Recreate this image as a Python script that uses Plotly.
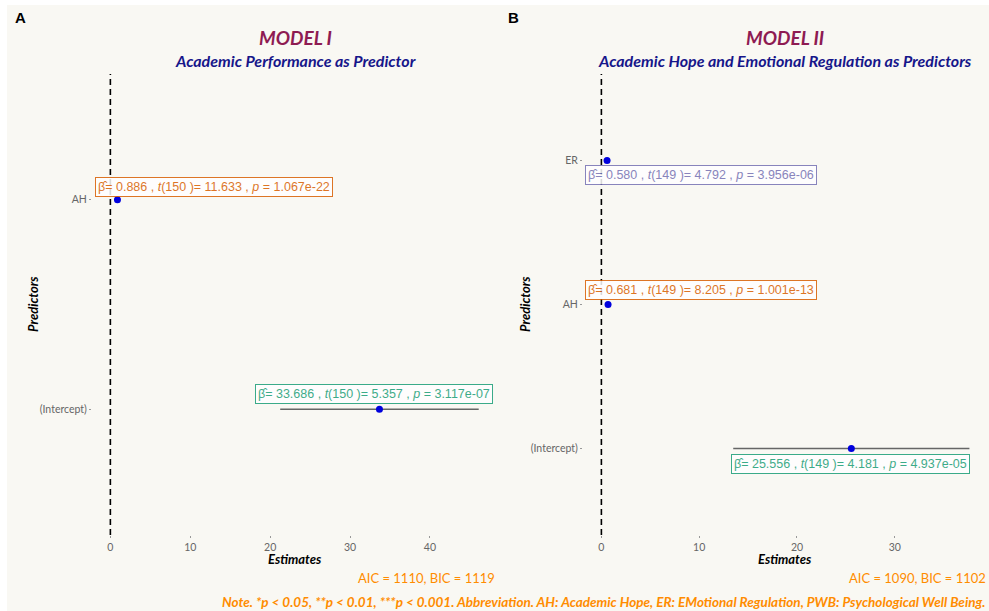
import plotly.graph_objects as go

W, H = 989, 611

# ---------------- data ----------------
termsA = ["AH", "(Intercept)"]
estA = [0.886, 33.686]
loA = [0.735, 21.26]
hiA = [1.037, 46.11]
labelsA = [
    "β̂= 0.886 , <i>t</i>(150 )= 11.633 , <i>p</i> = 1.067e-22",
    "β̂= 33.686 , <i>t</i>(150 )= 5.357 , <i>p</i> = 3.117e-07",
]
labelxA = [13.0, 33.0]

termsB = ["ER", "AH", "(Intercept)"]
estB = [0.580, 0.681, 25.556]
loB = [0.341, 0.517, 13.48]
hiB = [0.819, 0.845, 37.63]
labelsB = [
    "β̂= 0.580 , <i>t</i>(149 )= 4.792 , <i>p</i> = 3.956e-06",
    "β̂= 0.681 , <i>t</i>(149 )= 8.205 , <i>p</i> = 1.001e-13",
    "β̂= 25.556 , <i>t</i>(149 )= 4.181 , <i>p</i> = 4.937e-05",
]
labelxB = [10.2, 10.2, 25.5]

term_colors = {"AH": "#D95F02", "ER": "#7570B3", "(Intercept)": "#1B9E77"}
xticksA = [0, 10, 20, 30, 40]
xticksB = [0, 10, 20, 30]

# ---------------- layout helpers ----------------
def px_x(p):
    return p / W

def px_y(p):
    return 1 - p / H

BG = "#f9f8f3"
SCRIPT = "Lato"

fig = go.Figure()

# error bars + points
for terms, est, lo, hi, ax in [(termsA, estA, loA, hiA, ""), (termsB, estB, loB, hiB, "2")]:
    fig.add_trace(go.Scatter(
        x=est, y=terms, mode="markers",
        xaxis="x" + ax, yaxis="y" + ax,
        marker=dict(color="#0000dd", size=7),
        error_x=dict(type="data", symmetric=False,
                     array=[h - e for h, e in zip(hi, est)],
                     arrayminus=[e - l for e, l in zip(est, lo)],
                     color="#666666", thickness=1.6, width=0),
        showlegend=False, hoverinfo="skip",
    ))

axis_common = dict(showgrid=False, zeroline=False, showline=False,
                   ticks="outside", ticklen=2, tickcolor="#999999",
                   tickfont=dict(family=SCRIPT, size=10.5, color="#666666"))

fig.update_layout(
    width=W, height=H,
    margin=dict(l=0, r=0, t=0, b=0),
    paper_bgcolor="white", plot_bgcolor=BG,
    xaxis=dict(domain=[px_x(92), px_x(497)], range=[-2.3, 48.4],
               tickvals=xticksA, anchor="y", **axis_common),
    yaxis=dict(domain=[px_y(535), px_y(74)], type="category",
               categoryarray=termsA[::-1], range=[-0.6, 1.6],
               anchor="x", **axis_common),
    xaxis2=dict(domain=[px_x(583), px_x(988)], range=[-1.88, 39.53],
                tickvals=xticksB, anchor="y2", **axis_common),
    yaxis2=dict(domain=[px_y(535), px_y(74)], type="category",
                categoryarray=termsB[::-1], range=[-0.6, 2.6],
                anchor="x2", **axis_common),
)

shapes = [
    dict(type="rect", xref="paper", yref="paper", x0=px_x(7), x1=1.0,
         y0=0, y1=px_y(5), fillcolor=BG, line=dict(width=0), layer="below"),
    dict(type="line", xref="x", yref="y domain", x0=0, x1=0, y0=0, y1=1,
         line=dict(color="black", width=1.6, dash="6px,4px")),
    dict(type="line", xref="x2", yref="y2 domain", x0=0, x1=0, y0=0, y1=1,
         line=dict(color="black", width=1.6, dash="6px,4px")),
]
fig.update_layout(shapes=shapes)

ann = []
# coefficient labels
shiftsA = [13, 15]
for t, txt_, lx, sh in zip(termsA, labelsA, labelxA, shiftsA):
    c = term_colors[t]
    ann.append(dict(x=lx, y=t, xref="x", yref="y", text=txt_, showarrow=False,
                    yshift=sh, font=dict(family="Liberation Sans", size=12.5, color=c),
                    bgcolor="white", bordercolor=c, borderwidth=1, borderpad=2, opacity=0.85))
shiftsB = [-15, 15, -15]
for t, txt_, lx, sh in zip(termsB, labelsB, labelxB, shiftsB):
    c = term_colors[t]
    ann.append(dict(x=lx, y=t, xref="x2", yref="y2", text=txt_, showarrow=False,
                    yshift=sh, font=dict(family="Liberation Sans", size=12.5, color=c),
                    bgcolor="white", bordercolor=c, borderwidth=1, borderpad=2, opacity=0.85))

def txt(x, y, s, size, color, xanchor="center", family=SCRIPT, weight="bold",
        style="italic", angle=0):
    ann.append(dict(x=px_x(x), y=px_y(y), xref="paper", yref="paper", text=s,
                    showarrow=False, xanchor=xanchor, yanchor="middle", textangle=angle,
                    font=dict(family=family, size=size, color=color, weight=weight, style=style)))

# panel tags
txt(20, 18, "A", 15, "black", family="Liberation Sans", style="normal")
txt(513, 18, "B", 15, "black", family="Liberation Sans", style="normal")
# titles
txt(295, 37, "MODEL I", 19, "#8e1b52")
txt(295, 61, "Academic Performance as Predictor", 16, "#16168a")
txt(785, 37, "MODEL II", 19, "#8e1b52")
txt(785, 61, "Academic Hope and Emotional Regulation as Predictors", 16, "#16168a")
# axis titles
txt(295, 559, "Estimates", 13, "black")
txt(785, 559, "Estimates", 13, "black")
txt(33, 304, "Predictors", 13, "black", angle=-90)
txt(525, 304, "Predictors", 13, "black", angle=-90)
# captions
txt(497, 578, "AIC = 1110, BIC = 1119", 13, "#ff8c00", xanchor="right", weight="normal",
    style="normal")
txt(988, 578, "AIC = 1090, BIC = 1102", 13, "#ff8c00", xanchor="right", weight="normal",
    style="normal")
txt(988, 602, "Note. *p < 0.05, **p < 0.01, ***p < 0.001. Abbreviation. AH: Academic Hope, "
    "ER: EMotional Regulation, PWB: Psychological Well Being.", 13.5, "#ff8c00", xanchor="right")

fig.update_layout(annotations=ann)
fig.write_html("out.html")
